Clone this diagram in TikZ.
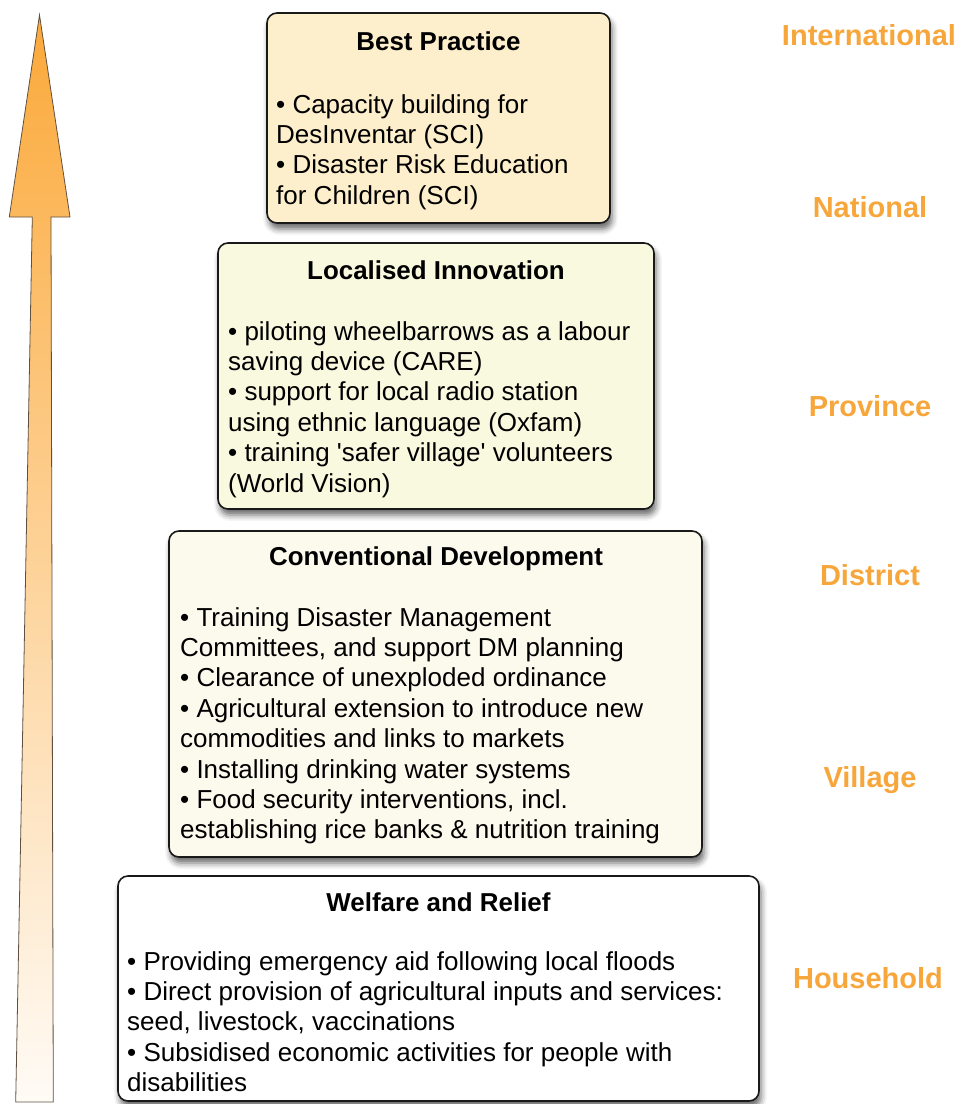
\documentclass[tikz,border=0pt]{standalone}
\usepackage{fontspec}
\newfontfamily\lsans{Liberation Sans}
\usetikzlibrary{shadows.blur}
\definecolor{bpfill}{RGB}{253,239,203}
\definecolor{lifill}{RGB}{249,249,223}
\definecolor{cdfill}{RGB}{252,249,237}
\definecolor{lvlorange}{RGB}{247,166,59}
\definecolor{arrtop}{RGB}{251,169,58}
\definecolor{arrmid}{RGB}{253,200,128}
\definecolor{arrbot}{RGB}{255,251,246}
\definecolor{arrline}{RGB}{95,80,65}
\begin{document}
\begin{tikzpicture}[x=1pt,y=-1pt,
  box/.style={draw=black!90, line width=1.6pt, rounded corners=10pt, inner sep=0pt,
    blur shadow={shadow xshift=2pt, shadow yshift=-6pt, shadow blur radius=6pt, shadow opacity=60}},
  ttl/.style={font=\lsans\bfseries\fontsize{25.9}{30.4}\selectfont, anchor=base, inner sep=0pt},
  body/.style={font=\lsans\fontsize{26}{30.4}\selectfont, anchor=base west, align=left, inner sep=0pt},
  lvl/.style={font=\lsans\bfseries\fontsize{29}{34}\selectfont, text=lvlorange, anchor=base, inner sep=0pt}]
\useasboundingbox (0,0) rectangle (964,1104);

% upward arrow
\path[draw=arrline, line width=0.8pt, top color=arrtop, middle color=arrmid, bottom color=arrbot]
  (39.5,15) -- (70,217) -- (51,217) -- (53.3,1102) -- (15.7,1102) -- (32.3,217) -- (9.3,217) -- cycle;

% boxes
\node[box, fill=white, minimum width=641pt, minimum height=225pt] (wr) at (438.5,988.5) {};
\node[box, fill=cdfill, minimum width=533pt, minimum height=326pt] (cd) at (435.5,694) {};
\node[box, fill=lifill, minimum width=436pt, minimum height=266pt] (li) at (436,376) {};
\node[box, fill=bpfill, minimum width=343pt, minimum height=210pt] (bp) at (438.5,118) {};

% box texts (body nodes are anchored at the baseline of their last line)
\node[ttl] (bpt) at (438.5,50.7) {Best Practice};
\node[body] (bpb) at (276,204.2) {• Capacity building for\\DesInventar (SCI)\\• Disaster Risk Education\\for Children (SCI)};

\node[ttl] (lit) at (436,279.3) {Localised Innovation};
\node[body] (lib) at (228,492) {• piloting wheelbarrows as a labour\\saving device (CARE)\\• support for local radio station\\using ethnic language (Oxfam)\\• training 'safer village' volunteers\\(World Vision)};

\node[ttl] (cdt) at (436,565) {Conventional Development};
\node[body] (cdb) at (180,838.8) {• Training Disaster Management\\Committees, and support DM planning\\• Clearance of unexploded ordinance\\• Agricultural extension to introduce new\\commodities and links to markets\\• Installing drinking water systems\\• Food security interventions, incl.\\establishing rice banks \& nutrition training};

\node[ttl] (wrt) at (438.5,911.7) {Welfare and Relief};
\node[body] (wrb) at (127,1091.6) {• Providing emergency aid following local floods\\• Direct provision of agricultural inputs and services:\\seed, livestock, vaccinations\\• Subsidised economic activities for people with\\disabilities};

% level labels
\node[lvl] (l1) at (869,45) {International};
\node[lvl] (l2) at (870,217) {National};
\node[lvl] (l3) at (870,416) {Province};
\node[lvl] (l4) at (870,585) {District};
\node[lvl] (l5) at (870,787) {Village};
\node[lvl] (l6) at (868,988) {Household};
\end{tikzpicture}
\end{document}
